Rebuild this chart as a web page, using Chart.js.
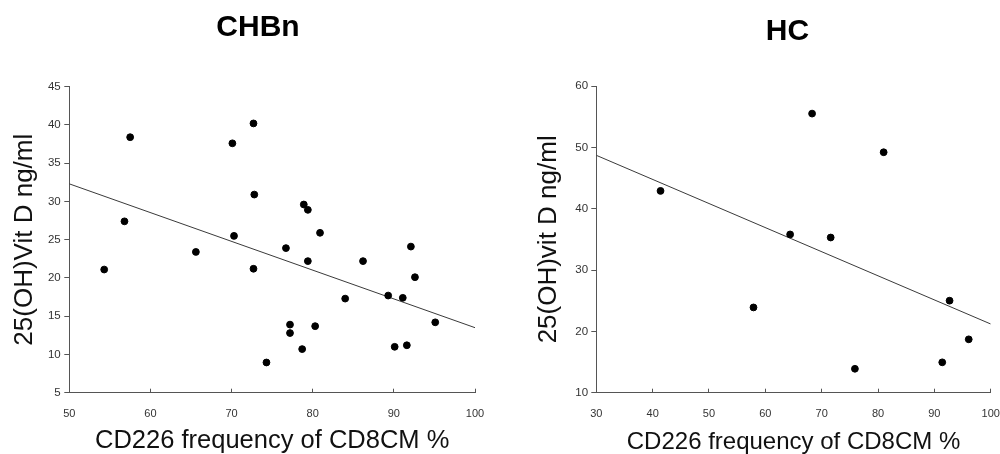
<!DOCTYPE html>
<html><head><meta charset="utf-8">
<script src="https://cdn.jsdelivr.net/npm/chart.js@4.4.1/dist/chart.umd.min.js"></script>
<style>
html,body{margin:0;padding:0;background:#fff;overflow:hidden;width:1000px;height:454px}
canvas{position:absolute;top:0}
#chbn{left:0}
#hc{left:500px}
</style></head>
<body>
<canvas id="chbn" width="500" height="454"></canvas>
<canvas id="hc" width="500" height="454"></canvas>
<script>
// ---- data ----
const chbnTitle = 'CHBn';
const chbnX = [54.3, 56.8, 57.5, 65.6, 70.1, 70.3, 72.7, 72.8, 72.7, 76.7, 77.2, 77.2, 74.3, 78.7,
               78.9, 79.4, 79.4, 80.3, 80.9, 84.0, 86.2, 89.3, 90.1, 91.1, 91.6, 92.1, 92.6, 95.1];
const chbnY = [21.1, 27.4, 38.4, 23.4, 37.6, 25.5, 40.2, 30.9, 21.2, 23.9, 13.9, 12.8, 8.95, 10.7,
               29.6, 28.9, 22.2, 13.7, 25.9, 17.3, 22.2, 17.7, 11.0, 17.4, 11.2, 24.1, 20.1, 14.2];
const chbnFitX = [50, 100];
const chbnFitY = [32.3, 13.5];
const chbnXTicks = [50, 60, 70, 80, 90, 100];
const chbnYTicks = [5, 10, 15, 20, 25, 30, 35, 40, 45];
const chbnYLabel = '25(OH)Vit D ng/ml';

const hcTitle = 'HC';
const hcX = [41.4, 57.9, 64.4, 68.3, 71.6, 75.9, 81.0, 91.4, 92.7, 96.1];
const hcY = [42.9, 23.9, 35.8, 55.5, 35.3, 13.9, 49.2, 14.95, 25.0, 18.7];
const hcFitX = [30, 100];
const hcFitY = [48.7, 21.2];
const hcXTicks = [30, 40, 50, 60, 70, 80, 90, 100];
const hcYTicks = [10, 20, 30, 40, 50, 60];
const hcYLabel = '25(OH)vit D ng/ml';

const xLabel = 'CD226 frequency of CD8CM %';

const FONT = "'Liberation Sans', Arial, Helvetica, sans-serif";
const Y_TICK_SIZE = 11.5;

function pairs(xs, ys) { return xs.map((x, i) => ({x: x, y: ys[i]})); }

function widestLabel(values, size) {
  const c = document.createElement('canvas').getContext('2d');
  c.font = size + 'px ' + FONT;
  return Math.max.apply(null, values.map(v => c.measureText(String(v)).width));
}

function build(id, o) {
  const ctx = document.getElementById(id).getContext('2d');
  const widest = widestLabel(o.yTicks, Y_TICK_SIZE);
  return new Chart(ctx, {
    data: {
      datasets: [
        {
          type: 'scatter',
          data: pairs(o.xs, o.ys),
          backgroundColor: '#000',
          borderColor: '#000',
          pointRadius: 3.4,
          pointHoverRadius: 3.4,
          order: 1
        },
        {
          type: 'line',
          data: pairs(o.fitX, o.fitY),
          borderColor: '#3a3a3a',
          borderWidth: 1,
          pointRadius: 0,
          fill: false,
          tension: 0,
          order: 2
        }
      ]
    },
    options: {
      responsive: false,
      animation: false,
      devicePixelRatio: 1,
      layout: { padding: { left: o.padLeft, right: o.padRight, top: 0, bottom: 0 } },
      plugins: {
        legend: { display: false },
        tooltip: { enabled: false },
        title: {
          display: true,
          text: o.title,
          color: '#000',
          font: { family: FONT, size: 30, weight: 'bold' },
          padding: { top: o.titleTop, bottom: o.titleBottom },
          fullSize: true
        }
      },
      scales: {
        x: {
          type: 'linear',
          position: 'bottom',
          min: o.xTicks[0],
          max: o.xTicks[o.xTicks.length - 1],
          afterBuildTicks: (s) => { s.ticks = o.xTicks.map(v => ({value: v})); },
          grid: { display: true, drawOnChartArea: false, drawTicks: true, tickLength: -4, color: '#555', tickWidth: 1 },
          border: { display: true, color: '#555', width: 1 },
          ticks: { color: '#333', font: { family: FONT, size: 11 }, padding: 18.5, maxRotation: 0, autoSkip: false },
          title: {
            display: true,
            text: xLabel,
            color: '#111',
            font: { family: FONT, size: o.xTitleSize },
            padding: { top: 0, bottom: -2.3 }
          },
          afterFit: (s) => {
            s.height = 454 - o.areaBottom;
            s.paddingLeft = 0;
            s.paddingRight = 0;
          }
        },
        y: {
          type: 'linear',
          position: 'left',
          min: o.yTicks[0],
          max: o.yTicks[o.yTicks.length - 1],
          afterBuildTicks: (s) => { s.ticks = o.yTicks.map(v => ({value: v})); },
          grid: { display: true, drawOnChartArea: false, drawTicks: true, tickLength: 5, color: '#555', tickWidth: 1 },
          border: { display: true, color: '#555', width: 1 },
          ticks: {
            color: '#333', font: { family: FONT, size: Y_TICK_SIZE },
            mirror: true, crossAlign: 'far',
            padding: -(o.yLabelGap + widest), autoSkip: false
          },
          title: {
            display: true,
            text: o.yLabel,
            color: '#111',
            font: { family: FONT, size: 26 },
            padding: { top: o.yTitlePad, bottom: 0 }
          },
          afterFit: (s) => { s.width = o.areaLeft - o.padLeft; }
        }
      }
    }
  });
}

build('chbn', {
  title: chbnTitle, xs: chbnX, ys: chbnY, fitX: chbnFitX, fitY: chbnFitY,
  xTicks: chbnXTicks, yTicks: chbnYTicks, yLabel: chbnYLabel,
  padLeft: 41, padRight: 25, areaLeft: 69.3, areaBottom: 392.7, yLabelGap: 8.6,
  titleTop: 9.9, titleBottom: 40.8, yTitlePad: -31.4, xTitleSize: 25.5
});

build('hc', {
  title: hcTitle, xs: hcX, ys: hcY, fitX: hcFitX, fitY: hcFitY,
  xTicks: hcXTicks, yTicks: hcYTicks, yLabel: hcYLabel,
  padLeft: 84.3, padRight: 9.3, areaLeft: 96.3, areaBottom: 392.7, yLabelGap: 8.2,
  titleTop: 13.3, titleBottom: 36.7, yTitlePad: -51.2, xTitleSize: 24
});
</script>
</body></html>
